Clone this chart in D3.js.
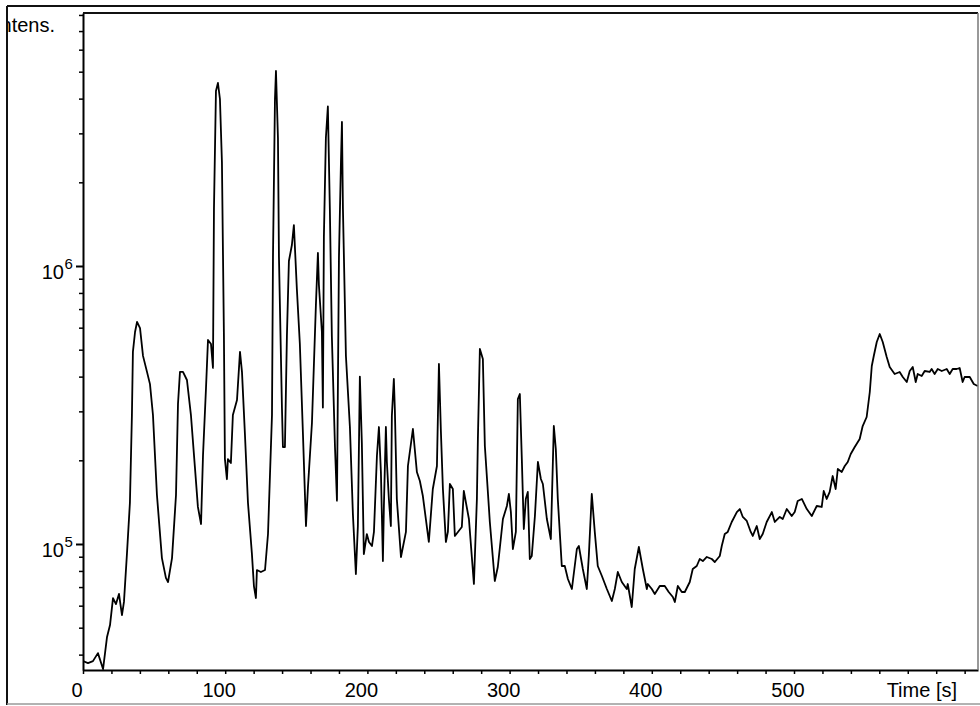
<!DOCTYPE html>
<html>
<head>
<meta charset="utf-8">
<script src="https://cdn.jsdelivr.net/npm/d3@7/dist/d3.min.js"></script>
<style>
	body { margin: 0; background: #fff; }
	svg { display: block; font-family: 'Liberation Sans', Arial, sans-serif; }
</style>
</head>
<body>
<div id="chart"></div>
<script>

// retention time [s]
var times = [
	0, 3.5, 7.0, 10.5, 14.1, 16.9, 19.0, 21.1, 23.2, 25.3, 27.4, 28.8, 30.9, 33.0, 34.4, 35.1, 36.6, 38.0, 40.1, 42.2,
	45.0, 47.1, 49.2, 52.0, 55.5, 58.3, 59.8, 62.6, 65.4, 66.8, 68.2, 70.3, 73.1, 75.9, 78.7, 80.8, 83.0, 84.4, 86.5, 87.9,
	90.0, 91.4, 92.1, 93.5, 94.9, 96.3, 97.7, 99.1, 99.8, 101.2, 101.9,
	104.0, 105.4, 108.3, 110.4, 111.8, 113.9, 116.0, 118.8, 120.2, 121.6, 122.3, 125.1, 128.0, 130.1, 132.9, 133.6, 135.0, 135.7, 137.1, 137.8,
	139.9, 140.6, 142.0, 143.4, 144.8, 146.9, 148.3, 150.4, 152.5, 154.7, 156.8, 158.2, 161.0, 163.8, 165.2, 165.9, 168.0, 168.7, 169.4, 170.8,
	172.2, 173.6, 175.0, 177.2, 178.6, 180.0, 181.4, 182.1, 182.8, 184.9, 187.7, 189.8, 191.9, 193.3, 194.7, 196.1, 197.5, 199.6, 201.1,
	203.2, 204.6, 206.7, 208.1, 209.5, 210.9, 211.6, 213.0, 213.7, 215.1, 216.5, 217.2, 218.6, 219.3, 220.7, 223.6, 227.1, 228.5, 232.0, 234.8,
	236.9, 239.0, 243.2, 246.0, 248.9, 250.3, 251.7, 253.1, 255.2, 256.6, 258.0, 260.1, 261.5, 266.4, 267.8, 271.4, 274.9, 277.0, 277.7, 279.1,
	281.2, 282.6, 286.1, 289.6, 291.7, 295.3, 298.1, 299.5, 300.9, 302.3, 304.4, 305.8, 307.2,
	308.6, 310.0, 311.4, 312.8, 314.2, 315.6, 317.8, 319.9, 322.0, 323.4, 326.2, 329.0, 331.1, 332.5, 333.9, 336.7, 338.8, 341.0, 343.8, 347.3,
	348.7, 351.5, 354.3, 355.7, 357.8, 359.9, 362.0, 364.9, 368.4, 371.9, 374.0, 376.1, 378.9, 382.4, 383.1, 385.9, 388.0, 390.9, 393.7, 396.5,
	397.2, 400.0, 402.1, 405.6,
	409.1, 411.9, 414.8, 416.2, 418.3, 421.1, 423.2, 426.7, 428.8, 431.6, 433.7, 435.9, 438.7, 442.2, 444.3, 447.8, 449.2, 451.3, 453.4, 456.2,
	459.8, 461.9, 464.0, 466.8, 469.6, 471.0, 473.8, 475.9, 478.0, 480.8, 484.4, 486.5, 490.0, 492.1, 494.9, 498.4, 500.5, 502.6, 505.5, 509.0,
	512.5, 516.0,
	519.5, 520.9, 523.0, 525.1, 527.2, 529.3, 530.8, 533.6, 535.7, 537.8, 539.9, 542.7, 546.2, 548.3, 551.1, 553.3, 554.7, 556.1, 558.2, 560.3,
	562.4, 565.2, 567.3, 570.8, 574.3, 576.5, 579.3, 581.4, 583.5, 585.6, 587.0, 589.8, 591.9, 595.4, 596.8, 598.9, 601.1, 603.9, 607.4, 609.5,
	611.6, 614.4, 616.5, 618.6, 620.0, 623.6, 626.4, 629.2
];

// intensity (counts)
var intensity = [
	37900, 37300, 37900, 40500, 35500, 46300, 51100, 63900, 60800, 66100, 55500, 61900, 92000, 141000, 291000, 491000, 579000, 629000, 598000, 475000,
	416000, 376000, 291000, 150000, 89000, 75500, 73000, 89000, 150000, 319000, 416000, 416000, 389000, 291000, 189000, 136000, 118000, 209000, 364000, 542000,
	524000, 430000, 1603000, 4261000, 4553000, 3988000, 2366000, 560000, 202000, 171000, 202000,
	195600, 291000, 329600, 491000, 416000, 246700, 141000, 92000, 70600, 63900, 80600, 79300, 80600, 108600, 291000, 1077000, 3988000, 5028000, 2886000, 1077000,
	309700, 223300, 223300, 560000, 1042000, 1190000, 1404000, 826600, 524000, 246700, 116100, 160300, 272400, 727000, 1114000, 854300, 579000, 309700, 1272000, 2886000,
	3747000, 1603000, 560000, 223300, 143200, 1077000, 2366000, 3296000, 1603000, 474700, 263500, 128200, 78000, 116100, 400000, 230800, 92000, 108600, 101700,
	98350, 110500, 207300, 263500, 181600, 86850, 137000, 263500, 197200, 145200, 116100, 288700, 392200, 305900, 145200, 89800, 110500, 190800, 259200, 181600,
	168500, 148800, 101700, 157700, 190800, 444100, 252900, 157700, 101700, 110500, 164400, 157700, 106900, 115100, 155100, 123000, 71790, 145200, 238600, 502800,
	463000, 225200, 120000, 73610, 82650, 123000, 137000, 151300, 130300, 95940, 110500, 332400, 346400,
	202200, 113200, 145200, 153900, 88310, 90530, 126100, 197200, 171300, 164400, 123000, 104200, 265700, 219600, 145200, 83340, 83340, 74830, 68880, 95940,
	98350, 81300, 68880, 90530, 151300, 110500, 83340, 76720, 68880, 62370, 68880, 79300, 73000, 68880, 71790, 59340, 81300, 97540, 81300, 68880,
	71790, 68880, 66100, 70620,
	70620, 67190, 64480, 61850, 70620, 67190, 67190, 73000, 81300, 83340, 88310, 86850, 89800, 88310, 86150, 90530, 98350, 108600, 110500, 120000,
	130300, 133600, 125100, 121000, 110500, 106900, 116100, 104200, 108600, 120000, 130300, 120000, 125100, 123000, 133600, 126100, 130300, 142800, 145200, 133600,
	126100, 137000,
	135900, 155100, 145200, 153900, 175600, 157700, 186100, 181600, 190800, 197200, 210700, 223300, 238600, 265700, 286300, 352200, 436800, 474700, 532700, 569300,
	532700, 470700, 433200, 408900, 415700, 398800, 382500, 419100, 433200, 382500, 408900, 402100, 419100, 415700, 426100, 408900, 426100, 419100, 426100, 408900,
	426100, 426100, 429700, 382500, 398800, 398800, 376300, 370100
];

var xLabels = [0, 100, 200, 300, 400, 500];
var yDecades = [1e5, 1e6];
var yExponents = ['5', '6'];

var W = 980;
var H = 706;
var plotL = 83;
var plotR = 978;
var plotT = 13;
var plotB = 670;

var svg = d3.select('#chart').append('svg').attr('width', W).attr('height', H);

// scales anchored on the printed ticks, then stretched to the frame
var x = d3.scaleLinear().domain([0, 500]).range([plotL, 794]);
x.domain([0, x.invert(plotR)]).range([plotL, plotR]);

var y = d3.scaleLog().domain([1e5, 1e6]).range([544, 266]);
y.domain([y.invert(plotB), y.invert(plotT)]).range([plotB, plotT]);

svg.append('clipPath').attr('id', 'plot').append('rect')
	.attr('x', plotL).attr('y', plotT - 2)
	.attr('width', plotR - plotL).attr('height', plotB - plotT + 2);

// x axis
var xTicks = d3.range(0, x.domain()[1], 20);
var gx = svg.append('g').attr('transform', 'translate(0,' + plotB + ')')
	.call(d3.axisBottom(x).tickValues(xTicks).tickSize(4).tickSizeOuter(0).tickFormat(''));
gx.select('.domain').attr('stroke', '#000').attr('stroke-width', 2);
gx.selectAll('.tick line').attr('stroke', '#000').attr('stroke-width', 1.5);

svg.append('g').selectAll('text').data(xLabels).join('text')
	.attr('x', function(d) { return x(d) - 6; })
	.attr('y', 697)
	.attr('text-anchor', 'middle')
	.style('font-size', '20px')
	.text(function(d) { return d; });

svg.append('text')
	.attr('x', 957).attr('y', 697)
	.attr('text-anchor', 'end')
	.style('font-size', '20px')
	.text('Time [s]');

// y axis, minor ticks 2..9 of every decade
var minor = y.ticks().filter(function(v) { return yDecades.indexOf(v) === -1; });
var gy = svg.append('g').attr('transform', 'translate(' + plotL + ',0)')
	.call(d3.axisLeft(y).tickValues(minor).tickSize(4).tickSizeOuter(0).tickFormat(''));
gy.select('.domain').attr('stroke', '#000').attr('stroke-width', 2);
gy.selectAll('.tick line').attr('stroke', '#000').attr('stroke-width', 1.5);

var gmaj = svg.append('g').attr('transform', 'translate(' + plotL + ',0)')
	.call(d3.axisLeft(y).tickValues(yDecades).tickSize(7).tickSizeOuter(0).tickFormat(''));
gmaj.select('.domain').remove();
gmaj.selectAll('.tick line').attr('stroke', '#000').attr('stroke-width', 2);

var lab = svg.append('g').selectAll('g').data(yDecades).join('g');
lab.append('text')
	.attr('x', 64).attr('y', function(d) { return y(d) + 13; })
	.attr('text-anchor', 'end')
	.style('font-size', '20px')
	.text('10');
lab.append('text')
	.attr('x', 64.5).attr('y', function(d) { return y(d) + 3; })
	.style('font-size', '15px')
	.text(function(d, i) { return yExponents[i]; });

// trace
var line = d3.line()
	.x(function(d, i) { return x(times[i]); })
	.y(function(d) { return y(d); });

svg.append('path')
	.datum(intensity)
	.attr('clip-path', 'url(#plot)')
	.attr('fill', 'none')
	.attr('stroke', '#000')
	.attr('stroke-width', 1.8)
	.attr('stroke-linejoin', 'round')
	.attr('d', line);

// axis title, cut by the outer frame like the scan
svg.append('text')
	.attr('x', 55).attr('y', 32)
	.attr('text-anchor', 'end')
	.style('font-size', '20px')
	.text('Intens.');
svg.append('rect').attr('x', 0).attr('y', 0).attr('width', 7).attr('height', H).attr('fill', '#fff');

// frames
svg.append('line').attr('x1', 7).attr('x2', W).attr('y1', 6).attr('y2', 6).attr('stroke', '#111').attr('stroke-width', 2);
svg.append('line').attr('x1', 7).attr('x2', 7).attr('y1', 6).attr('y2', 705).attr('stroke', '#111').attr('stroke-width', 2);
svg.append('line').attr('x1', 7).attr('x2', W).attr('y1', 704).attr('y2', 704).attr('stroke', '#999').attr('stroke-width', 1.5);
svg.append('line').attr('x1', plotL).attr('x2', plotR).attr('y1', plotT).attr('y2', plotT).attr('stroke', '#111').attr('stroke-width', 2);
svg.append('line').attr('x1', plotR).attr('x2', plotR).attr('y1', plotT).attr('y2', plotB).attr('stroke', '#777').attr('stroke-width', 1.5);

</script>
</body>
</html>
